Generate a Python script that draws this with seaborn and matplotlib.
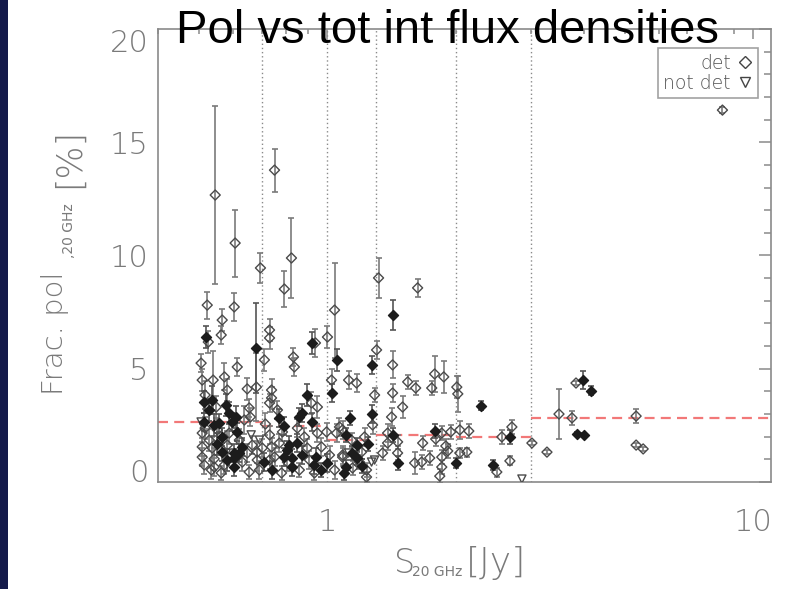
import numpy as np
import matplotlib
matplotlib.use("Agg")
import matplotlib.pyplot as plt
import seaborn as sns
from matplotlib.lines import Line2D
from matplotlib.patches import Rectangle
from matplotlib.ticker import FixedLocator, FixedFormatter, MultipleLocator, LogLocator, NullFormatter

# ---------------- data ----------------
# detected sources (open diamonds)
det_x = [8.46, 0.545, 0.607, 0.696, 0.751, 0.792, 0.823, 1.318, 1.628, 1.039,
         0.522, 0.604, 0.566, 0.563, 0.525, 0.614, 0.505, 0.508, 0.539, 0.573,
         0.648, 0.681, 0.548, 0.655, 0.659, 0.508, 0.588, 0.508, 0.536, 0.648,
         0.684, 0.508, 0.542, 0.514, 0.542, 0.573, 0.655, 0.684, 0.692, 0.563,
         0.731, 0.731, 0.711, 0.832, 0.836, 0.937, 1.000, 1.022, 0.739, 0.739,
         0.731, 0.763, 0.917, 0.947, 0.850, 0.947, 0.995, 1.050, 1.085, 0.731,
         0.739, 0.771, 0.897, 1.011, 0.751, 0.731, 0.780, 0.932, 1.039, 1.085,
         1.304, 1.422, 1.121, 1.170, 1.543, 1.611, 1.290, 1.422, 1.501, 1.414,
         1.276, 1.067, 1.222, 1.384, 1.384, 1.461, 1.347, 1.461, 1.602, 1.085,
         1.145, 1.189, 1.235, 1.235, 1.757, 1.785, 1.875, 2.012, 2.023, 1.855,
         1.947, 2.045, 2.147, 1.795, 1.673, 1.896, 1.916, 1.664, 1.738, 1.855,
         1.855, 1.835, 2.045, 2.124, 2.498, 2.681, 2.567, 2.710, 3.020, 3.496,
         3.276, 3.833, 3.751, 5.305, 5.305, 5.511,
         0.516, 0.528, 0.551, 0.582, 0.534, 0.621, 0.638, 0.631, 0.516, 0.582,
         0.666, 0.703, 0.715, 0.784, 0.805, 0.883, 0.907, 0.859, 0.968, 1.139,
         1.202]
det_y = [16.42, 12.67, 10.55, 9.45, 13.77, 8.52, 9.89, 9.01, 8.57, 7.59,
         7.81, 7.73, 7.15, 6.49, 6.18, 5.08, 5.25, 4.50, 4.50, 4.64,
         4.11, 4.19, 3.31, 3.27, 2.87, 2.16, 2.16, 1.55, 1.50, 1.28,
         1.32, 1.10, 1.02, 0.75, 0.66, 0.75, 0.44, 0.97, 0.53, 0.40,
         6.71, 6.36, 5.39, 5.52, 5.08, 6.14, 6.40, 4.50, 4.06, 3.71,
         3.49, 3.18, 3.49, 3.31, 2.38, 2.16, 2.21, 2.16, 2.30, 2.08,
         1.55, 1.72, 1.50, 1.19, 1.10, 0.97, 0.40, 0.40, 0.53, 1.10,
         5.83, 5.17, 4.50, 4.37, 4.42, 4.15, 3.84, 3.93, 3.31, 2.87,
         2.52, 2.43, 1.99, 2.16, 1.72, 1.77, 1.28, 1.28, 0.84, 1.19,
         0.62, 0.88, 0.53, 0.22, 4.15, 4.77, 4.64, 4.19, 3.89, 2.16,
         2.21, 2.30, 2.25, 1.90, 1.72, 1.59, 1.37, 0.88, 1.06, 1.10,
         0.66, 0.26, 1.28, 1.32, 0.44, 0.93, 1.99, 2.43, 1.72, 3.00,
         1.32, 4.37, 2.83, 2.91, 1.63, 1.46,
         2.38, 1.85, 2.30, 1.63, 0.53, 1.85, 2.74, 0.88, 3.84, 4.06,
         1.63, 1.50, 2.56, 2.21, 0.88, 1.99, 0.97, 0.53, 1.55, 1.85,
         1.32]
det_err = [0.15, 3.95, 1.48, 0.67, 0.95, 0.80, 1.77, 0.88, 0.40, 2.10,
           0.60, 0.60, 0.50, 0.40, 0.50, 0.40, 0.40, 0.50, 1.30, 0.60,
           0.50, 1.50, 0.50, 0.40, 0.40, 0.40, 0.50, 0.40, 0.50, 0.40,
           0.50, 0.40, 0.50, 0.40, 0.40, 0.40, 0.30, 0.50, 0.40, 0.30,
           0.50, 0.50, 0.50, 0.40, 0.40, 0.60, 0.50, 0.50, 0.50, 0.50,
           0.40, 0.40, 0.50, 0.50, 0.40, 0.40, 0.40, 0.40, 0.40, 0.40,
           0.40, 0.40, 0.40, 0.40, 0.40, 0.40, 0.30, 0.30, 0.40, 0.40,
           0.40, 0.60, 0.40, 0.40, 0.30, 0.30, 0.30, 0.40, 0.50, 0.40,
           0.40, 0.40, 0.40, 0.40, 0.30, 0.30, 0.30, 0.30, 0.50, 0.40,
           0.30, 0.30, 0.30, 0.20, 0.30, 0.80, 0.70, 0.50, 0.80, 0.30,
           0.30, 0.40, 0.30, 0.30, 0.30, 0.30, 0.30, 0.30, 0.30, 0.30,
           0.30, 0.30, 0.20, 0.20, 0.20, 0.20, 0.30, 0.30, 0.10, 1.10,
           0.10, 0.10, 0.30, 0.30, 0.10, 0.10,
           0.50, 0.50, 0.50, 0.60, 0.40, 0.50, 0.60, 0.40, 0.60, 0.50,
           0.40, 0.40, 0.50, 0.40, 0.40, 0.40, 0.40, 0.30, 0.40, 0.30,
           0.30]

# second detected class (filled diamonds)
fill_x = [1.422, 0.681, 0.519, 0.514, 0.536, 0.579, 0.611, 0.588, 0.514, 0.557,
          0.598, 0.566, 0.614, 0.566, 0.604, 0.621, 0.604, 0.604, 0.922, 1.050,
          1.027, 0.771, 0.792, 0.893, 0.869, 0.859, 0.922, 0.814, 0.850, 0.792,
          0.827, 0.942, 0.739, 0.827, 0.932, 1.000, 1.269, 1.127, 1.269, 1.108,
          1.242, 1.422, 1.461, 1.139, 1.170, 1.108, 1.096, 2.291, 1.785, 2.001,
          2.444, 2.681, 3.981, 4.157, 3.854, 4.003,
          0.528, 0.551, 0.582, 0.631, 0.542, 0.711, 0.805, 0.873, 0.968, 1.170,
          1.202]
fill_y = [7.37, 5.92, 6.40, 3.53, 3.62, 3.40, 2.87, 3.05, 2.65, 2.60,
          2.65, 1.99, 2.21, 1.32, 1.28, 1.28, 1.06, 0.66, 6.14, 5.39,
          3.93, 2.83, 2.47, 3.84, 3.05, 2.87, 2.65, 1.63, 1.72, 1.10,
          1.06, 1.10, 0.53, 0.66, 0.75, 0.84, 5.17, 2.83, 3.00, 2.08,
          1.68, 2.08, 0.84, 1.28, 1.06, 0.66, 0.40, 3.36, 2.25, 0.84,
          0.75, 1.99, 4.50, 4.02, 2.12, 2.08,
          3.18, 1.68, 0.97, 1.55, 2.52, 0.88, 1.41, 1.19, 0.53, 1.63,
          0.71]
fill_err = [0.67, 2.00, 0.50, 0.50, 0.60, 0.50, 0.50, 0.50, 0.40, 0.40,
            0.40, 0.40, 0.40, 0.40, 0.40, 0.40, 0.40, 0.40, 0.50, 0.50,
            0.40, 0.40, 0.40, 0.50, 0.40, 0.40, 0.40, 0.40, 0.40, 0.40,
            0.40, 0.40, 0.40, 0.40, 0.40, 0.40, 0.40, 0.30, 0.40, 0.30,
            0.30, 0.30, 0.30, 0.30, 0.30, 0.30, 0.30, 0.20, 0.30, 0.20,
            0.20, 0.30, 0.40, 0.20, 0.10, 0.10,
            0.50, 0.50, 0.50, 0.40, 0.50, 0.40, 0.40, 0.40, 0.30, 0.30,
            0.30]

# not detected (upper limits, open down-triangles)
nd_x = [0.662, 0.692, 0.505, 0.579, 1.290, 2.861, 1.121, 1.269]
nd_y = [2.08, 1.85, 2.65, 1.28, 0.97, 0.13, 1.28, 0.88]

# flux bins and median fractional polarisation
bin_edges = [0.4, 0.7, 1.0, 1.3, 2.0, 3.0, 11.0]
bin_median = [2.66, 2.49, 1.85, 2.08, 2.00, 2.83]

x_ticks = [1, 10]
x_tick_labels = ['1', '10']
y_ticks = [0, 5, 10, 15, 20]
y_tick_labels = ['0', '5', '10', '15', '20']

# ---------------- figure ----------------
sns.set_style("white")
plt.rcParams['font.family'] = ['DejaVu Sans']

W, H = 792, 589
fig = plt.figure(figsize=(W / 100, H / 100), dpi=100)
fig.patch.set_facecolor('white')
fig.patches.append(Rectangle((0, 0), 8 / W, 1, transform=fig.transFigure,
                             facecolor='#141a4a', edgecolor='none', zorder=0))

ax = fig.add_axes([158 / W, 1 - 482 / H, (771 - 158) / W, (482 - 29) / H])
ax.set_xscale('log')
ax.set_xlim(bin_edges[0], bin_edges[-1])
ax.set_ylim(0, 20)

GRAY = '#7a7a7a'
for e in bin_edges[1:-1]:
    ax.axvline(e, color='#8a8a8a', lw=1.0, ls=(0, (1, 2)), zorder=1)

ax.hlines(bin_median, bin_edges[:-1], bin_edges[1:], colors='#f27878',
          lw=1.6, linestyles=(0, (4.5, 2.8)), zorder=2)

ax.errorbar(det_x, det_y, yerr=det_err, fmt='none', ecolor=GRAY,
            elinewidth=1.2, capsize=2.2, capthick=1.2, zorder=3)
ax.errorbar(fill_x, fill_y, yerr=fill_err, fmt='none', ecolor='#555555',
            elinewidth=1.2, capsize=2.2, capthick=1.2, zorder=3)

sns.scatterplot(x=det_x, y=det_y, marker='D', s=26, facecolors='none',
                edgecolor='#4a4a4a', linewidth=1.0, ax=ax, zorder=4, legend=False)
sns.scatterplot(x=fill_x, y=fill_y, marker='D', s=26, color='#1c1c1c',
                edgecolor='#1c1c1c', linewidth=1.0, ax=ax, zorder=5, legend=False)
sns.scatterplot(x=nd_x, y=nd_y, marker='v', s=34, facecolors='none',
                edgecolor='#4a4a4a', linewidth=1.0, ax=ax, zorder=4, legend=False)

# axes styling (IDL-like)
for s in ax.spines.values():
    s.set_color('#8a8a8a')
    s.set_linewidth(1.2)

ax.xaxis.set_major_locator(FixedLocator(x_ticks))
ax.xaxis.set_major_formatter(FixedFormatter(x_tick_labels))
ax.xaxis.set_minor_locator(LogLocator(base=10, subs=np.arange(2, 10) * 1.0, numticks=30))
ax.xaxis.set_minor_formatter(NullFormatter())
ax.yaxis.set_major_locator(FixedLocator(y_ticks))
ax.yaxis.set_major_formatter(FixedFormatter(y_tick_labels))
ax.yaxis.set_minor_locator(MultipleLocator(1))

ax.tick_params(which='both', direction='in', top=True, right=True,
               color='#8a8a8a', width=1.1, labelcolor=GRAY, labelsize=22)
ax.tick_params(axis='y', which='major', length=8.5, pad=7)
ax.tick_params(axis='y', which='minor', length=5)
ax.tick_params(axis='x', which='major', length=7, pad=19)
ax.tick_params(axis='x', which='minor', length=3.5)
ax.set_xlabel('')
ax.set_ylabel('')

fig.canvas.draw()
for lab in ax.get_xticklabels() + ax.get_yticklabels():
    lab.set_fontweight('light')
ylabs = ax.get_yticklabels()
ylabs[0].set_verticalalignment('baseline')
ylabs[-1].set_verticalalignment('top')

# legend
handles = [Line2D([], [], ls='none', marker='D', ms=6.5, mfc='none', mec='#444444', mew=1.0, label='det'),
           Line2D([], [], ls='none', marker='v', ms=7.5, mfc='none', mec='#444444', mew=1.0, label='not det')]
leg = ax.legend(handles=handles, loc='upper right', bbox_to_anchor=((758 - 158) / 613, (482 - 48) / 453),
                borderaxespad=0, markerfirst=False, frameon=True, fancybox=False,
                edgecolor='#8a8a8a', fontsize=13.5, handlelength=0.8, handletextpad=0.35,
                borderpad=0.3, labelspacing=0.05)
leg.get_frame().set_linewidth(1.2)
for t in leg.get_texts():
    t.set_color('#555555')
    t.set_fontweight('light')

# title
fig.text(448 / W, 1 - 43 / H, 'Pol vs tot int flux densities', ha='center', va='baseline',
         fontsize=34, color='black', family=['Liberation Sans', 'DejaVu Sans'], zorder=10)

# y label (pieces)
fig.text(63 / W, 1 - 395 / H, 'Frac. pol', rotation=90, rotation_mode='anchor',
         ha='left', va='baseline', fontsize=21, color=GRAY, fontweight='light')
fig.text(73 / W, 1 - 258 / H, ',20 GHz', rotation=90, rotation_mode='anchor',
         ha='left', va='baseline', fontsize=10, color=GRAY)
fig.text(79 / W, 1 - 188 / H, '[%]', rotation=90, rotation_mode='anchor',
         ha='left', va='baseline', fontsize=25, color=GRAY, fontweight='light')

# x label (pieces)
fig.text(394 / W, 1 - 573 / H, 'S', ha='left', va='baseline', fontsize=24,
         color=GRAY, fontweight='light')
fig.text(412 / W, 1 - 576 / H, '20 GHz', ha='left', va='baseline', fontsize=10, color=GRAY)
fig.text(466 / W, 1 - 573 / H, '[Jy]', ha='left', va='baseline', fontsize=26,
         color=GRAY, fontweight='light')

fig.savefig('out.png', dpi=100)
